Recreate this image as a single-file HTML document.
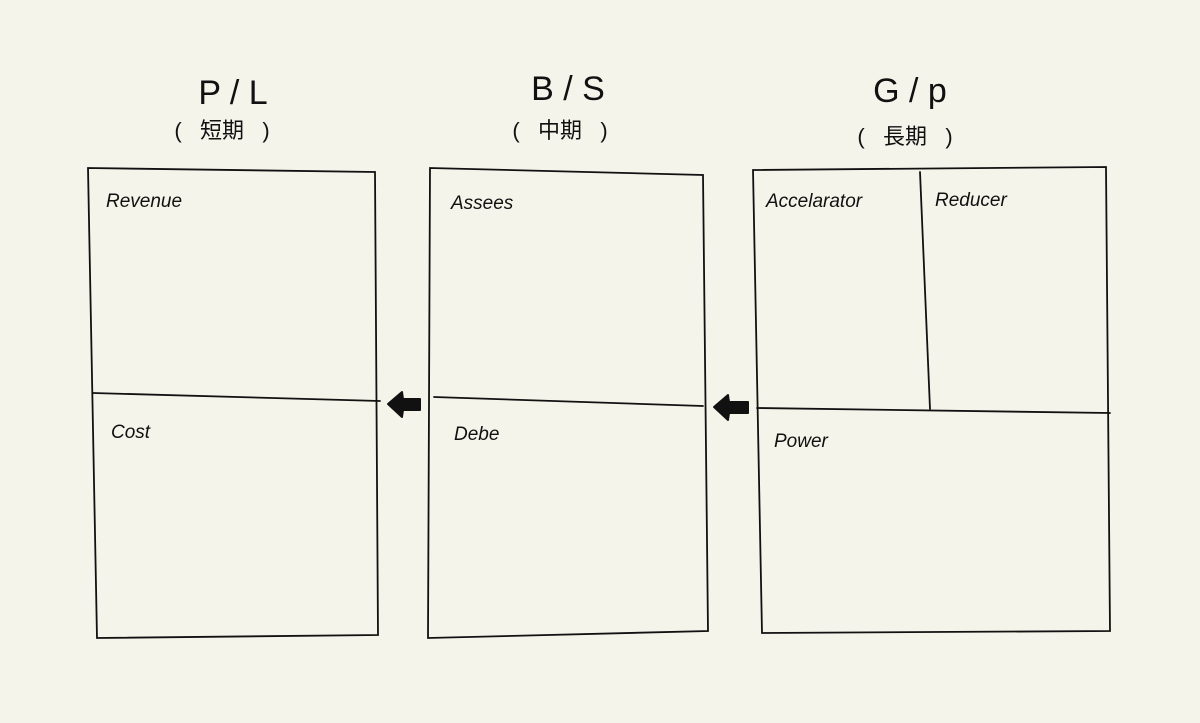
<!DOCTYPE html>
<html><head><meta charset="utf-8"><style>
html,body{margin:0;padding:0;background:#f5f4ea;}
svg{display:block}
text{font-family:"Liberation Sans","Noto Sans CJK JP",sans-serif;fill:#111;}
</style></head><body>
<svg width="1200" height="723" viewBox="0 0 1200 723">
<rect width="1200" height="723" fill="#f5f4ea"/>
<g stroke="#111" stroke-width="1.8" fill="none" stroke-linecap="round">
<path d="M88 168 L375 172 L378 635 L97 638 Z"/>
<path d="M93 393 L380 401"/>
<path d="M430 168 L703 175 L708 631 L428 638 Z"/>
<path d="M434 397 L703 406"/>
<path d="M753 170 L1106 167 L1110 631 L762 633 Z"/>
<path d="M920 172 L930 409"/>
<path d="M757 408 L1110 413"/>
</g>
<g fill="#111" stroke="#111" stroke-width="2" stroke-linejoin="round">
<path d="M388 404 L402 392 L403 399 L420 399 L420 410 L403 410 L402 417 Z"/>
<path d="M714 407 L728 395 L729 402 L748 402 L748 413 L729 413 L728 420 Z"/>
</g>
<g font-size="34" text-anchor="middle" font-weight="300">
<text x="233" y="104">P / L</text>
<text x="568" y="100">B / S</text>
<text x="910" y="102">G / p</text>
</g>
<g font-size="22" text-anchor="middle" style="white-space:pre">
<text x="222" y="138" xml:space="preserve">(   短期   )</text>
<text x="560" y="138" xml:space="preserve">(   中期   )</text>
<text x="905" y="144" xml:space="preserve">(   長期   )</text>
</g>
<g font-size="19" font-style="italic">
<text x="106" y="207">Revenue</text>
<text x="111" y="438">Cost</text>
<text x="451" y="209">Assees</text>
<text x="454" y="440">Debe</text>
<text x="766" y="207">Accelarator</text>
<text x="935" y="206">Reducer</text>
<text x="774" y="447">Power</text>
</g>
</svg>
</body></html>
